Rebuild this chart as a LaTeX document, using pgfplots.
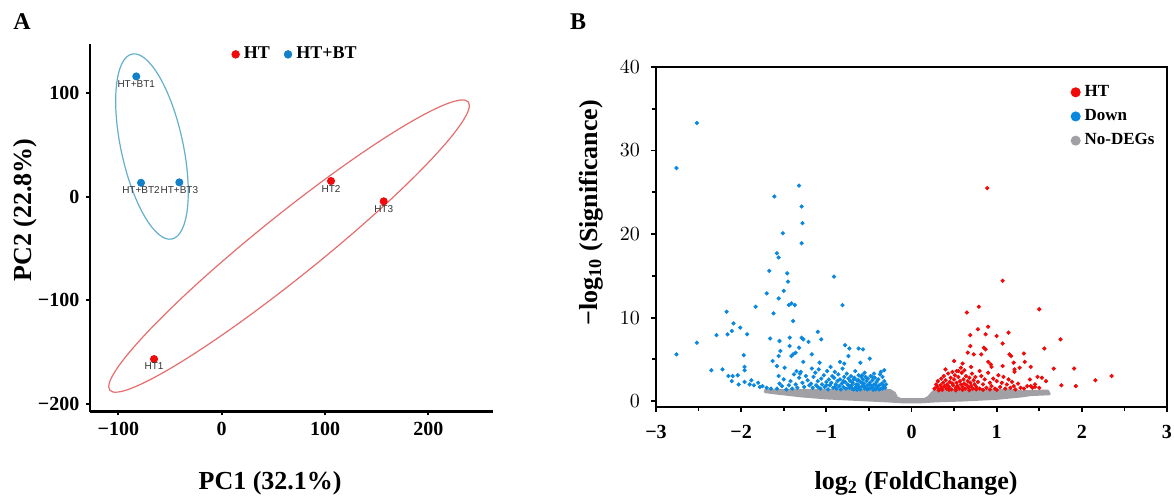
\documentclass[border=0pt]{standalone}
\usepackage{pgfplots}
\pgfplotsset{compat=1.18}
\usepackage{fontspec}
\setmainfont{Liberation Serif}
\newfontfamily\labsans{Liberation Sans}

\definecolor{htred}{RGB}{240,10,10}
\definecolor{btblue}{RGB}{20,128,200}
\definecolor{downblue}{RGB}{10,136,224}
\definecolor{nodeg}{RGB}{160,160,165}
\definecolor{ellred}{RGB}{228,110,110}
\definecolor{ellblue}{RGB}{100,175,205}

\tikzset{big label/.style={font=\bfseries\fontsize{13}{14}\selectfont}}
\pgfplotsset{
  ticks bold/.style={ticklabel style={font=\bfseries\fontsize{10}{11}\selectfont}},
}

\begin{document}
\begin{tikzpicture}
\useasboundingbox (0,0) rectangle (587pt,248pt);

\node[font=\bfseries\fontsize{12}{13}\selectfont] at (11pt,237pt) {A};
\node[font=\bfseries\fontsize{12}{13}\selectfont] at (289pt,237pt) {B};

% ---------------- A: PCA ----------------
\begin{axis}[
  at={(45pt,42.15pt)}, anchor=south west,
  scale only axis, width=201.5pt, height=183.8pt,
  xmin=-127.5, xmax=262.6, ymin=-207.5, ymax=147.4,
  axis x line=bottom, axis y line=left,
  axis line style={line width=1.2pt,-},
  tick align=outside, major tick length=1.8pt,
  tick style={line width=1pt, black},
  xtick={-100,0,100,200}, xticklabels={−100,0,100,200},
  ytick={-200,-100,0,100}, yticklabels={−200,−100,0,100},
  ticks bold,
  xlabel={PC1 (32.1\%)}, ylabel={PC2 (22.8\%)},
  xlabel style={big label, at={(axis description cs:0.447,-0.195)}, anchor=center},
  ylabel style={big label, at={(axis description cs:-0.161,0.549)}, anchor=center},
  legend columns=2,
  legend style={draw=none, fill=none, at={(axis description cs:0.35,0.972)}, anchor=west,
    font=\bfseries\fontsize{9}{10}\selectfont, inner sep=0pt,
    /tikz/every even column/.append style={column sep=5pt}},
  legend image code/.code={\fill (0pt,0pt) circle (1.9pt);},
  clip=false,
]
\draw[ellred, line width=0.6pt, rotate around={38.8:(axis cs:65.2,-47.6)}]
  (axis cs:65.2,-47.6) ellipse [x radius=115pt, y radius=15.5pt];
\draw[ellblue, line width=0.6pt, rotate around={102.2:(axis cs:-67.5,48.5)}]
  (axis cs:-67.5,48.5) ellipse [x radius=47.3pt, y radius=15.5pt];

\addplot[only marks, mark=*, mark size=1.8pt, color=htred,
  nodes near coords, point meta=explicit symbolic,
  nodes near coords style={anchor=north, inner sep=0pt, yshift=-1.8pt,
    font=\labsans\fontsize{5}{5}\selectfont, text=black!80}]
  table[meta=lab] {
x y lab
-65.5 -156.7 HT1
105.8 15.2 HT2
156.8 -4.4 HT3
};
\addlegendentry{HT}
\addplot[only marks, mark=*, mark size=1.8pt, color=btblue,
  nodes near coords, point meta=explicit symbolic,
  nodes near coords style={anchor=north, inner sep=0pt, yshift=-1.8pt,
    font=\labsans\fontsize{5}{5}\selectfont, text=black!80}]
  table[meta=lab] {
x y lab
-82.7 116.2 HT+BT1
-78.1 13.5 HT+BT2
-41.0 13.9 HT+BT3
};
\addlegendentry{HT+BT}
\end{axis}

% ---------------- B: volcano ----------------
\begin{axis}[
  at={(328pt,44.5pt)}, anchor=south west,
  scale only axis, width=255.5pt, height=170pt,
  xmin=-3, xmax=3, ymin=-0.7, ymax=40,
  axis line style={line width=1pt},
  tick pos=left, tick align=outside,
  major tick length=2.5pt, minor tick length=2pt,
  tick style={line width=0.9pt, black},
  minor x tick num=1, minor y tick num=1,
  xtick={-3,-2,-1,0,1,2,3}, xticklabels={−3,−2,−1,0,1,2,3},
  ytick={0,10,20,30,40},
  ticks bold,
  xticklabel style={yshift=-3pt},
  yticklabel style={xshift=-2pt},
  xlabel={log\textsubscript{2} (FoldChange)},
  ylabel={−log\textsubscript{10} (Significance)},
  xlabel style={big label, at={(axis description cs:0.509,-0.224)}, anchor=center},
  ylabel style={big label, at={(axis description cs:-0.127,0.572)}, anchor=center},
  legend cell align=left,
  legend style={draw=none, fill=none, at={(axis description cs:0.799,0.971)}, anchor=north west,
    font=\bfseries\fontsize{8.5}{10}\selectfont, row sep=1pt},
  legend image code/.code={\fill (0pt,0pt) circle (2.3pt);},
]
% No-DEGs: dense band drawn as an area
\addplot[forget plot, fill=nodeg, draw=nodeg, line width=1.2pt, line join=round] coordinates {
(-1.72,1.30) (-1.20,1.30) (-0.60,1.30) (-0.25,1.30) (-0.20,1.00) (-0.17,0.40)
(-0.12,0.22) (0.15,0.22) (0.20,0.50) (0.24,1.00) (0.27,1.30) (1.20,1.30)
(1.30,1.15) (1.45,1.20) (1.60,1.25)
(1.62,0.85) (1.40,0.75) (1.30,0.60) (1.00,0.30) (0.60,0.10) (0.30,0.00)
(0.10,-0.12) (-0.10,-0.12) (-0.30,0.00) (-0.60,0.15) (-1.00,0.35)
(-1.30,0.60) (-1.60,0.95) (-1.72,1.10)
} -- cycle;

% Down
\addplot[forget plot, only marks, mark=*, mark size=0.85pt, color=downblue] table {
x y
-2.52 33.3
-2.76 27.9
-1.32 25.8
-1.61 24.5
-1.29 23.3
-1.28 21.3
-1.51 20.1
-1.29 18.9
-1.58 17.7
-1.56 17.2
-1.67 15.6
-1.46 15.3
-0.91 14.9
-1.45 14.3
-1.50 13.2
-1.70 12.9
-1.56 12.3
-1.83 11.3
-1.44 11.5
-1.41 11.7
-1.37 11.5
-0.81 11.5
-1.62 10.5
-2.17 10.7
-1.39 9.6
-2.09 9.3
-2.01 8.8
-2.11 8.4
-2.29 7.9
-2.16 8.0
-1.93 8.0
-2.52 7.0
-2.76 5.6
-1.10 8.3
-1.66 7.5
-1.55 7.2
-1.43 7.6
-1.29 7.6
-1.27 7.4
-1.21 7.1
-1.06 7.4
-1.43 6.6
-1.32 6.4
-1.54 6.0
-1.56 5.4
-1.39 5.6
-1.36 5.8
-1.41 5.4
-1.17 5.6
-0.78 6.7
-0.73 6.3
-0.62 6.3
-0.57 6.2
-0.74 5.4
-0.49 5.1
-1.97 5.5
-1.63 4.8
-1.58 4.2
-1.49 4.0
-1.27 4.7
-1.08 4.6
-1.17 3.9
-0.84 4.7
-0.79 4.5
-0.60 4.6
-1.96 4.1
-1.96 3.7
-2.35 3.7
-2.22 3.8
-0.32 3.7
-2.15 3.0
-2.10 3.0
-2.04 3.1
-2.11 2.4
-1.56 3.0
-1.96 2.3
-1.90 2.0
-1.85 1.9
-1.80 2.2
-1.75 1.8
-1.70 1.6
-1.65 1.5
-2.03 2.0
-1.88 2.5
-1.78 1.7
-1.58 1.5
-1.55 2.1
-1.52 1.8
-1.50 2.6
-1.47 1.4
-1.44 1.9
-1.42 2.4
-1.40 1.5
-1.38 3.2
-1.36 2.0
-1.34 1.6
-1.32 2.8
-1.30 3.5
-1.28 2.2
-1.26 1.7
-1.24 3.0
-1.22 2.5
-1.20 1.9
-1.35 3.6
-1.31 3.3
-1.18 2.1
-1.16 1.6
-1.15 2.9
-1.13 3.4
-1.12 1.9
-1.10 2.4
-1.09 3.8
-1.07 1.5
-1.06 2.7
-1.05 2.0
-1.03 3.1
-1.02 1.7
-1.00 2.3
-0.99 3.6
-0.98 1.4
-0.97 2.6
-0.96 1.9
-0.95 4.1
-0.94 2.2
-0.93 3.0
-0.92 1.6
-0.91 2.8
-0.90 3.5
-0.89 2.0
-0.88 1.5
-0.87 2.4
-0.86 3.2
-0.85 1.8
-0.84 2.6
-0.83 1.4
-0.82 2.1
-0.81 3.9
-0.80 1.7
-0.79 2.9
-0.78 2.3
-0.77 1.5
-0.76 3.3
-0.75 2.0
-0.74 2.7
-0.73 1.6
-0.72 2.4
-0.71 3.0
-0.70 1.9
-0.69 2.2
-0.68 1.4
-0.67 2.8
-0.66 3.6
-0.65 1.7
-0.64 2.5
-0.63 2.0
-0.62 3.1
-0.61 1.5
-0.60 2.3
-0.59 2.9
-0.58 1.8
-0.57 2.6
-0.56 2.1
-0.55 3.4
-0.54 1.6
-0.53 2.4
-0.52 1.9
-0.51 2.7
-0.50 1.5
-0.49 2.2
-0.48 3.0
-0.47 1.8
-0.46 2.5
-0.45 1.6
-0.44 2.0
-0.43 2.8
-0.42 1.4
-0.41 2.3
-0.40 1.7
-0.39 2.6
-0.38 1.9
-0.37 3.2
-0.36 1.5
-0.35 2.1
-0.34 2.9
-0.33 1.8
-0.32 2.4
-0.31 1.6
-0.30 2.0
-0.60 1.4
-0.70 1.5
-0.55 1.5
-0.45 1.35
-0.65 2.0
-0.58 2.2
-0.62 1.7
-0.52 1.4
-0.48 1.6
-0.66 1.6
-0.74 1.9
-0.80 2.4
-0.90 1.7
-1.00 1.9
-1.10 1.7
-0.64 1.35
-0.56 1.8
-0.68 2.6
-0.72 1.8
-0.50 2.0
-0.42 1.9
-0.38 1.4
-0.34 1.5
-0.46 2.9
-0.54 2.9
-0.62 2.5
-0.58 3.1
-0.44 3.3
-0.36 3.5
};

% HT (up)
\addplot[forget plot, only marks, mark=*, mark size=0.85pt, color=htred] table {
x y
0.89 25.5
1.07 14.4
0.79 11.3
0.65 10.6
1.50 11.0
0.78 8.6
0.90 8.9
1.14 8.2
0.69 7.9
0.87 8.0
1.00 7.8
1.75 7.4
1.07 6.9
0.69 6.6
0.85 6.4
0.87 6.2
1.56 6.3
0.66 5.8
0.73 5.6
0.82 5.6
1.15 5.6
1.17 5.4
1.32 5.7
1.33 4.7
0.50 4.8
0.60 4.5
0.90 4.7
0.93 4.4
0.94 4.1
1.07 4.2
1.20 4.6
1.21 3.8
1.21 3.5
1.27 4.0
1.40 4.1
1.67 3.9
1.91 3.9
2.35 3.0
2.16 2.5
1.76 1.9
1.93 1.8
1.58 2.4
1.53 2.8
1.48 2.9
1.39 2.6
0.40 3.8
0.53 3.6
1.45 1.7
1.50 1.6
1.40 1.8
0.27 1.5
0.29 2.0
0.30 1.7
0.31 2.4
0.33 1.4
0.34 1.9
0.35 2.7
0.36 1.6
0.37 2.2
0.38 3.0
0.39 1.8
0.40 2.5
0.41 1.5
0.42 2.0
0.43 3.3
0.44 1.7
0.45 2.3
0.46 2.8
0.47 1.4
0.48 2.1
0.49 1.9
0.50 2.6
0.51 3.1
0.52 1.6
0.53 2.2
0.54 1.8
0.55 2.9
0.56 1.5
0.57 2.4
0.58 2.0
0.59 3.4
0.60 1.7
0.61 2.6
0.62 2.1
0.63 1.5
0.64 3.0
0.65 1.9
0.66 2.4
0.67 1.6
0.68 2.8
0.69 2.2
0.70 1.8
0.71 3.3
0.72 1.5
0.73 2.5
0.74 2.0
0.75 2.9
0.76 1.7
0.78 2.3
0.80 1.5
0.82 3.0
0.84 2.0
0.86 2.6
0.88 1.6
0.90 3.4
0.92 2.2
0.94 1.8
0.96 2.7
0.98 1.5
1.00 2.4
1.02 3.1
1.04 1.7
1.06 2.2
1.08 2.9
1.10 1.5
1.12 2.0
1.14 2.6
1.16 1.6
1.18 2.3
1.20 1.8
1.22 1.4
1.25 2.1
1.28 1.6
1.32 1.5
1.36 1.8
1.42 1.6
1.45 2.0
0.32 1.3
0.36 1.35
0.44 1.35
0.52 1.3
0.60 1.35
0.68 1.3
0.76 1.4
0.84 1.35
0.92 1.4
1.00 1.35
0.55 3.6
0.62 3.7
0.48 3.5
0.80 3.6
0.70 4.1
0.58 4.0
};

\addlegendimage{htred}
\addlegendentry{HT}
\addlegendimage{downblue}
\addlegendentry{Down}
\addlegendimage{nodeg}
\addlegendentry{No-DEGs}
\end{axis}
\end{tikzpicture}
\end{document}
